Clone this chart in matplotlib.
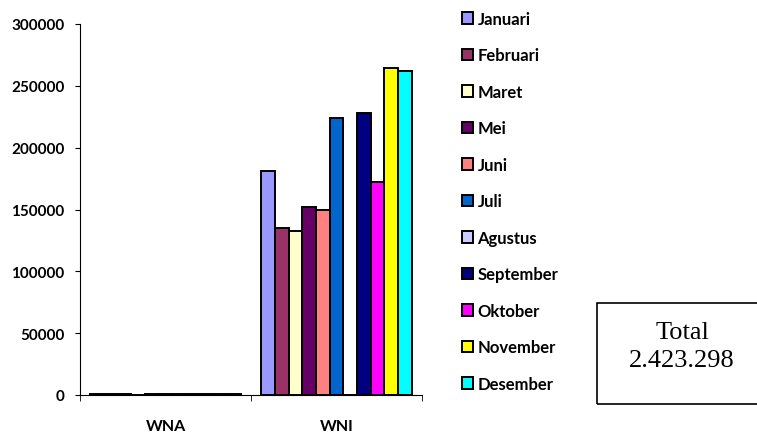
import numpy as np
import matplotlib.pyplot as plt
from matplotlib.patches import Rectangle

# data
categories = ['WNA', 'WNI']
months = ['Januari', 'Februari', 'Maret', 'Mei', 'Juni', 'Juli', 'Agustus',
          'September', 'Oktober', 'November', 'Desember']
colors = ['#9999FF', '#993366', '#FFFFCC', '#660066', '#FF8080', '#0066CC',
          '#CCCCFF', '#000080', '#FF00FF', '#FFFF00', '#00FFFF']
wna = [900, 800, 900, 0, 700, 800, 900, 700, 800, 900, 800]
wni = [180900, 134800, 132900, 151800, 149800, 224200, 0, 227800, 172500, 264400, 262000]
total_text = 'Total\n2.423.298'

W, H = 757, 435
fig = plt.figure(figsize=(W / 100, H / 100), dpi=100)
ax = fig.add_axes([80 / W, (H - 396) / H, (422 - 80) / W, (396 - 25) / H])

font = 'Lato'
n = len(months)
group = 0.88
bw = group / n
x = np.arange(len(categories))
handles = []
for i, m in enumerate(months):
    vals = [wna[i], wni[i]]
    b = ax.bar(x - group / 2 + bw * (i + 0.5), vals, bw, color=colors[i],
               edgecolor='black', linewidth=1.4, label=m)
    handles.append(b)

ax.set_xlim(-0.5, 1.5)
ax.set_ylim(0, 300000)
ax.set_yticks(np.arange(0, 300001, 50000))
ax.set_yticklabels([str(v) for v in range(0, 300001, 50000)],
                   fontfamily=font, fontweight='bold', fontsize=11)
ax.set_xticks(x)
ax.set_xticklabels(categories, fontfamily=font, fontweight='bold', fontsize=11.5)
ax.tick_params(axis='x', length=0, pad=17)
ax.set_xticks([-0.5, 0.5, 1.5], minor=True)
ax.tick_params(axis='x', which='minor', length=4, direction='out')
ax.tick_params(axis='y', length=3.6, direction='out', pad=7.5)
ax.spines['top'].set_visible(False)
ax.spines['right'].set_visible(False)

leg = fig.legend(handles=handles, labels=months, loc='upper left',
                 bbox_to_anchor=(455 / W, 1 - 5 / H), frameon=False,
                 prop={'family': font, 'weight': 'bold', 'size': 12},
                 handlelength=0.7, handleheight=0.7, handletextpad=0.25,
                 labelspacing=1.23, borderaxespad=0)

fig.patches.append(Rectangle((597 / W, (H - 405) / H), 175 / W, 101 / H,
                             transform=fig.transFigure, fill=False,
                             edgecolor='black', linewidth=1.2))
fig.text(682 / W, (H - 347) / H, total_text, ha='center', va='center',
         fontfamily='Liberation Serif', fontsize=19, linespacing=1.3)

fig.savefig('out.png', dpi=100)
